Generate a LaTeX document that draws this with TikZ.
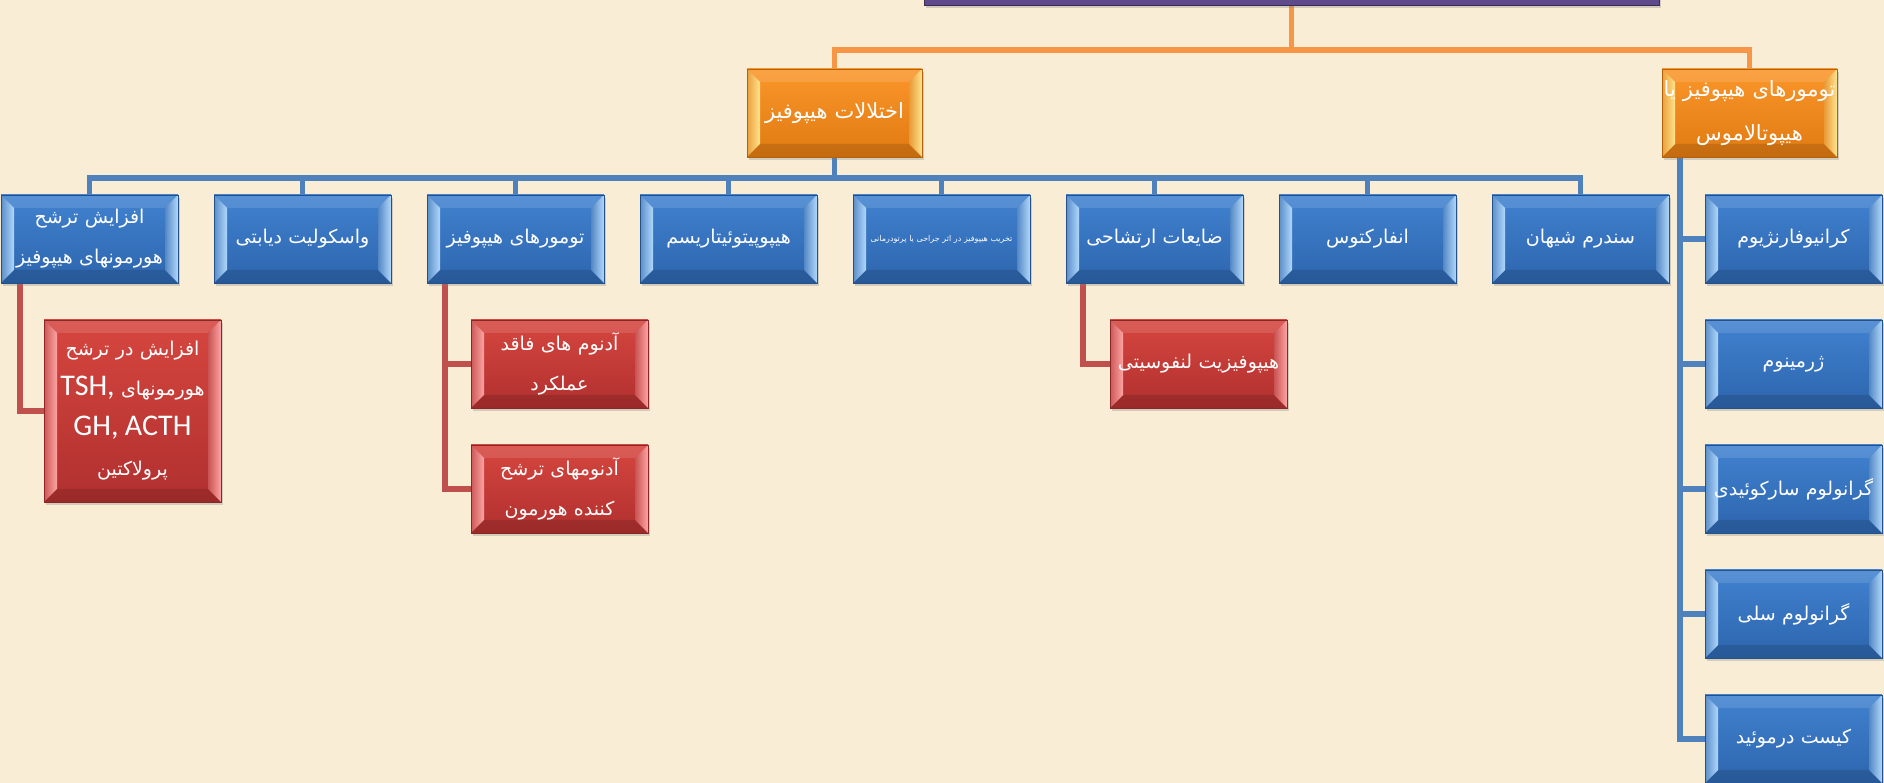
\documentclass[tikz,border=0pt]{standalone}
\usepackage{fontspec}
\setmainfont{Carlito}
\newfontfamily\arabicfont[Script=Arabic]{DejaVu Sans}
\TeXXeTstate=1
\usetikzlibrary{calc, shadows, backgrounds}
\definecolor{paper}{HTML}{F9EED5}
\definecolor{bluetop}{HTML}{4182D0}
\definecolor{bluebot}{HTML}{2D65AD}
\definecolor{bluelite}{HTML}{B0D8FC}
\definecolor{blueline}{HTML}{4F81BD}
\definecolor{orangetop}{HTML}{FA962A}
\definecolor{orangebot}{HTML}{E07A12}
\definecolor{orangelite}{HTML}{FFE38C}
\definecolor{orangeline}{HTML}{F79646}
\definecolor{redtop}{HTML}{D6463F}
\definecolor{redbot}{HTML}{B0302F}
\definecolor{redlite}{HTML}{FFA4A4}
\definecolor{redline}{HTML}{C0504D}
\definecolor{purplebox}{HTML}{5F4B8B}
\newcommand{\fa}[1]{\beginR#1\endR}

\tikzset{bevel/.style 2 args={path picture={
	\coordinate (sw) at (path picture bounding box.south west);
	\coordinate (ne) at (path picture bounding box.north east);
	\coordinate (nw) at (sw |- ne);
	\coordinate (se) at (ne |- sw);
	\fill[white, opacity=0.12] (nw) -- (ne) -- ($(ne)+(-13pt,-13pt)$) -- ($(nw)+(13pt,-13pt)$) -- cycle;
	\fill[black, opacity=0.12] (sw) -- (se) -- ($(se)+(-13pt,13pt)$) -- ($(sw)+(13pt,13pt)$) -- cycle;
	\shade[left color=#1!35!#2, right color=#1] (sw) -- (nw) -- ($(nw)+(13pt,-13pt)$) -- ($(sw)+(13pt,13pt)$) -- cycle;
	\shade[left color=#1!30!#2, right color=#1] (se) -- (ne) -- ($(ne)+(-13pt,-13pt)$) -- ($(se)+(-13pt,13pt)$) -- cycle;
}}}
\tikzstyle{box} = [rectangle, minimum width=177pt, minimum height=88pt, inner sep=1pt, text width=175pt, align=center, text=white, font=\arabicfont\fontsize{19}{40}\selectfont, drop shadow={shadow xshift=2pt, shadow yshift=-3pt, opacity=0.3}]
\tikzstyle{bluebox} = [box, draw=bluebot!80!black, top color=bluetop, bottom color=bluebot, bevel={bluelite}{bluebot}]
\tikzstyle{orangebox} = [box, minimum width=175pt, text width=173pt, font=\arabicfont\fontsize{21}{44}\selectfont, draw=orangebot!80!black, top color=orangetop, bottom color=orangebot, bevel={orangelite}{orangebot}]
\tikzstyle{redbox} = [box, draw=redbot!80!black, top color=redtop, bottom color=redbot, bevel={redlite}{redbot}]
\tikzstyle{link} = [line width=5.5pt]
\newcommand{\latin}[1]{{\normalfont\fontsize{30}{30}\selectfont #1}}

\begin{document}
\begin{tikzpicture}[x=1pt, y=1pt, node distance=125pt]
	\useasboundingbox (0,0) rectangle (1884,783);
	\clip (0,0) rectangle (1884,783);

	\node (top) [rectangle, minimum width=735pt, minimum height=90pt, draw=purplebox!60!black, fill=purplebox, drop shadow={shadow xshift=2pt, shadow yshift=-3pt, opacity=0.3}] at (1291.5,823) {};
	\node (dis) [orangebox] at (834.5,670) {\fa{اختلالات هیپوفیز}};
	\node (tum) [orangebox] at (1749.5,670) {\fa{تومورهای هیپوفیز یا}\\\fa{هیپوتالاموس}};

	% first row
	\node (b1) [bluebox] at (89.5,544) {\fa{افزایش ترشح}\\\fa{هورمونهای هیپوفیز}};
	\node (b2) [bluebox, node distance=213pt, right of=b1] {\fa{واسکولیت دیابتی}};
	\node (b3) [bluebox, node distance=213pt, right of=b2] {\fa{تومورهای هیپوفیز}};
	\node (b4) [bluebox, node distance=213pt, right of=b3] {\fa{هیپوپیتوئیتاریسم}};
	\node (b5) [bluebox, node distance=213pt, right of=b4, font=\arabicfont\fontsize{8}{10}\selectfont] {\fa{تخریب هیپوفیز در اثر جراحی یا پرتودرمانی}};
	\node (b6) [bluebox, node distance=213pt, right of=b5] {\fa{ضایعات ارتشاحی}};
	\node (b7) [bluebox, node distance=213pt, right of=b6] {\fa{انفارکتوس}};
	\node (b8) [bluebox, node distance=213pt, right of=b7] {\fa{سندرم شیهان}};

	\node (r1) [bluebox] at (1793.5,544) {\fa{کرانیوفارنژیوم}};
	\node (r2) [bluebox, below of=r1] {\fa{ژرمینوم}};
	\node (r3) [bluebox, below of=r2] {\fa{گرانولوم سارکوئیدی}};
	\node (r4) [bluebox, below of=r3] {\fa{گرانولوم سلی}};
	\node (r5) [bluebox, below of=r4] {\fa{کیست درموئید}};

	\node (a1) [redbox, minimum height=182pt, below of=b1, xshift=43pt, yshift=-47pt, font=\arabicfont\fontsize{19}{40}\selectfont] {\fa{افزایش در ترشح}\\\fa{هورمونهای \beginL\latin{TSH,}\endL}\\\latin{GH, ACTH}\\\fa{پرولاکتین}};
	\node (a2) [redbox, below of=b3, xshift=44pt] {\fa{آدنوم های فاقد}\\\fa{عملکرد}};
	\node (a3) [redbox, below of=a2] {\fa{آدنومهای ترشح}\\\fa{کننده هورمون}};
	\node (a4) [redbox, below of=b6, xshift=44pt] {\fa{هیپوفیزیت لنفوسیتی}};

	\coordinate (obus) at (1291.5,733);
	\coordinate (bbus) at (834.5,605);
	\coordinate (rtop) at (1680,626);
	\coordinate (rb1) at (20,500);
	\coordinate (rb3) at (445,500);
	\coordinate (rb6) at (1083,500);

	\begin{scope}[on background layer]
		\fill [paper] (0,0) rectangle (1884,783);
		\draw [link, orangeline] (top) -- (obus);
		\draw [link, orangeline] (obus) -| (dis);
		\draw [link, orangeline] (obus) -| (tum);
		\draw [link, blueline] (dis) -- (bbus);
		\foreach \i in {1,...,8}
			\draw [link, blueline] (bbus) -| (b\i);
		\foreach \i in {1,...,5}
			\draw [link, blueline] (rtop) |- (r\i.west);
		\draw [link, redline] (rb1) |- (a1.west);
		\draw [link, redline] (rb3) |- (a2.west);
		\draw [link, redline] (rb3) |- (a3.west);
		\draw [link, redline] (rb6) |- (a4.west);
	\end{scope}
\end{tikzpicture}
\end{document}
